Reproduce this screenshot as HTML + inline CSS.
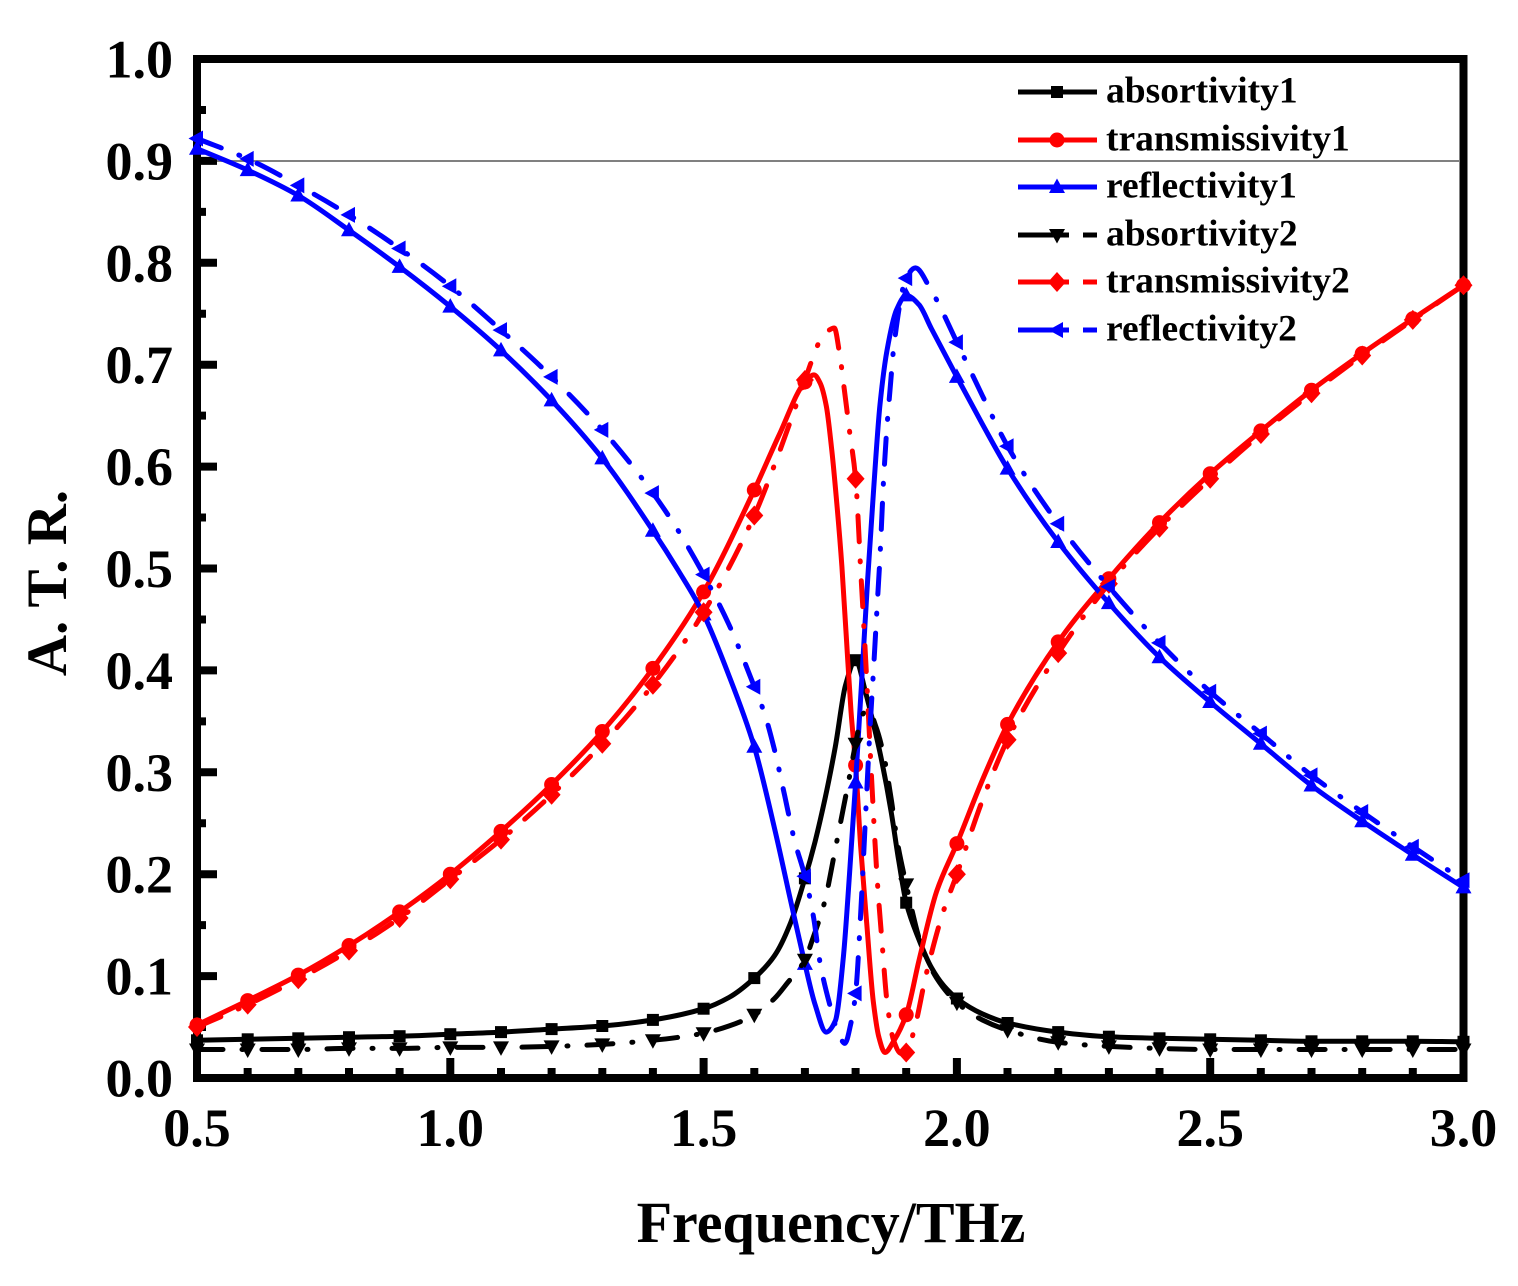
<!DOCTYPE html>
<html><head><meta charset="utf-8">
<style>
html,body{margin:0;padding:0;background:#fff;}
svg{display:block;}
text{font-family:"Liberation Serif","Times New Roman",serif;font-weight:bold;fill:#000;}
</style></head>
<body>
<svg id="s" width="1518" height="1286" viewBox="0 0 1518 1286" xmlns="http://www.w3.org/2000/svg">
<rect width="1518" height="1286" fill="#fff"/>
<line x1="201" y1="161" x2="1459" y2="161" stroke="#808080" stroke-width="2"/>
<rect x="197" y="59" width="1266.5" height="1019" fill="none" stroke="#000" stroke-width="8"/>
<path stroke="#000" stroke-width="8" fill="none" d="M201 976.1h16M201 874.2h16M201 772.3h16M201 670.4h16M201 568.5h16M201 466.6h16M201 364.7h16M201 262.8h16M201 160.9h16
M201 1027.05h5M201 925.15h5M201 823.25h5M201 721.35h5M201 619.45h5M201 517.55h5M201 415.65h5M201 313.75h5M201 211.85h5M201 109.95h5
M450.3 1074v-16M703.6 1074v-16M956.9 1074v-16M1210.2 1074v-16
M247.66 1074v-6M298.3 1074v-6M349 1074v-6M399.6 1074v-6M501 1074v-6M551.6 1074v-6M602.3 1074v-6M652.9 1074v-6M754.3 1074v-6M804.9 1074v-6M855.6 1074v-6M906.2 1074v-6M1007.5 1074v-6M1058.2 1074v-6M1108.9 1074v-6M1159.5 1074v-6M1260.8 1074v-6M1311.5 1074v-6M1362.2 1074v-6M1412.8 1074v-6"/>
<g font-size="54" text-anchor="end">
<text x="173" y="1096.5">0.0</text>
<text x="173" y="994.6">0.1</text>
<text x="173" y="892.7">0.2</text>
<text x="173" y="790.8">0.3</text>
<text x="173" y="688.9">0.4</text>
<text x="173" y="587">0.5</text>
<text x="173" y="485.1">0.6</text>
<text x="173" y="383.2">0.7</text>
<text x="173" y="281.3">0.8</text>
<text x="173" y="179.4">0.9</text>
<text x="173" y="77.5">1.0</text>
</g>
<g font-size="54" text-anchor="middle">
<text x="197" y="1146">0.5</text>
<text x="450.3" y="1146">1.0</text>
<text x="703.6" y="1146">1.5</text>
<text x="956.9" y="1146">2.0</text>
<text x="1210.2" y="1146">2.5</text>
<text x="1463.5" y="1146">3.0</text>
</g>
<text x="831" y="1242" font-size="58" text-anchor="middle">Frequency/THz</text>
<text transform="translate(66,583) rotate(-90)" font-size="57" text-anchor="middle">A. T. R.</text>
<g id="data"></g>
<!-- legend -->
<g stroke-width="5" fill="none">
<line x1="1018" y1="92" x2="1097" y2="92" stroke="#000"/>
<line x1="1018" y1="140" x2="1097" y2="140" stroke="#f00"/>
<line x1="1018" y1="187" x2="1097" y2="187" stroke="#00f"/>
<line x1="1018" y1="235" x2="1069" y2="235" stroke="#000"/>
<line x1="1083" y1="235" x2="1097" y2="235" stroke="#000"/>
<line x1="1018" y1="282" x2="1069" y2="282" stroke="#f00"/>
<line x1="1083" y1="282" x2="1097" y2="282" stroke="#f00"/>
<line x1="1018" y1="330" x2="1069" y2="330" stroke="#00f"/>
<line x1="1083" y1="330" x2="1097" y2="330" stroke="#00f"/>
</g>
<path d="M1051,86h12v12h-12z" fill="#000"/>
<circle cx="1057" cy="140" r="7.5" fill="#f00"/>
<path d="M1057,178.5L1065,193L1049,193z" fill="#00f"/>
<path d="M1057,243.5L1065,229L1049,229z" fill="#000"/>
<path d="M1057,272L1066,282L1057,292L1048,282z" fill="#f00"/>
<path d="M1048.5,330L1063,322L1063,338z" fill="#00f"/>
<g font-size="37.5">
<text x="1106" y="102.5">absortivity1</text>
<text x="1106" y="150.5">transmissivity1</text>
<text x="1106" y="197.5">reflectivity1</text>
<text x="1106" y="245.5">absortivity2</text>
<text x="1106" y="292.5">transmissivity2</text>
<text x="1106" y="340.5">reflectivity2</text>
</g>
</svg>
<script>
(function(){
const X=f=>197+(f-0.5)*506.6, Y=v=>1078-v*1019;
function path(pts){
  const p=pts.map(a=>[X(a[0]),Y(a[1])]);
  const n=p.length, d=[], m=[];
  for(let i=0;i<n-1;i++) d.push((p[i+1][1]-p[i][1])/(p[i+1][0]-p[i][0]));
  m[0]=d[0]; m[n-1]=d[n-2];
  for(let i=1;i<n-1;i++){
    if(d[i-1]*d[i]<=0) m[i]=0;
    else{const h0=p[i][0]-p[i-1][0], h1=p[i+1][0]-p[i][0];const w1=2*h1+h0, w2=h1+2*h0;m[i]=(w1+w2)/(w1/d[i-1]+w2/d[i]);}
  }
  let s='M'+p[0][0].toFixed(1)+','+p[0][1].toFixed(1);
  for(let i=0;i<n-1;i++){
    const h=(p[i+1][0]-p[i][0])/3;
    s+='C'+(p[i][0]+h).toFixed(1)+','+(p[i][1]+m[i]*h).toFixed(1)+' '+(p[i+1][0]-h).toFixed(1)+','+(p[i+1][1]-m[i+1]*h).toFixed(1)+' '+p[i+1][0].toFixed(1)+','+p[i+1][1].toFixed(1);
  }
  return s;
}
const A1=[[0.5,0.037],[0.6,0.038],[0.7,0.039],[0.8,0.040],[0.9,0.041],[1.0,0.043],[1.1,0.045],[1.2,0.048],[1.3,0.051],[1.4,0.057],[1.5,0.068],[1.55,0.079],[1.6,0.098],[1.64,0.12],[1.67,0.15],[1.7,0.196],[1.72,0.232],[1.74,0.275],[1.76,0.325],[1.78,0.385],[1.8,0.41],[1.82,0.378],[1.835,0.348],[1.85,0.315],[1.87,0.262],[1.885,0.214],[1.9,0.172],[1.925,0.136],[1.95,0.108],[1.975,0.09],[2.0,0.078],[2.05,0.063],[2.1,0.054],[2.2,0.045],[2.3,0.0405],[2.4,0.039],[2.5,0.038],[2.6,0.037],[2.7,0.036],[2.8,0.036],[2.9,0.036],[3.0,0.0355]];
const A2=[[0.5,0.028],[0.6,0.028],[0.7,0.028],[0.8,0.029],[0.9,0.029],[1.0,0.030],[1.1,0.030],[1.2,0.031],[1.3,0.033],[1.4,0.037],[1.5,0.044],[1.55,0.051],[1.6,0.062],[1.64,0.078],[1.665,0.093],[1.7,0.116],[1.715,0.136],[1.74,0.175],[1.755,0.212],[1.77,0.25],[1.785,0.288],[1.8,0.328],[1.812,0.355],[1.825,0.362],[1.84,0.345],[1.855,0.318],[1.87,0.275],[1.882,0.233],[1.9,0.19],[1.93,0.13],[1.96,0.098],[2.0,0.074],[2.05,0.057],[2.1,0.047],[2.2,0.035],[2.3,0.031],[2.4,0.029],[2.5,0.028],[2.6,0.028],[2.7,0.028],[2.8,0.028],[2.9,0.028],[3.0,0.028]];
const T1=[[0.5,0.052],[0.6,0.076],[0.7,0.101],[0.8,0.130],[0.9,0.163],[1.0,0.200],[1.1,0.242],[1.2,0.288],[1.3,0.340],[1.4,0.402],[1.5,0.477],[1.6,0.577],[1.65,0.632],[1.7,0.683],[1.718,0.69],[1.73,0.682],[1.742,0.66],[1.753,0.616],[1.763,0.564],[1.773,0.502],[1.782,0.43],[1.791,0.36],[1.8,0.307],[1.81,0.228],[1.822,0.152],[1.835,0.075],[1.846,0.04],[1.858,0.025],[1.875,0.036],[1.9,0.062],[1.925,0.115],[1.96,0.183],[2.0,0.230],[2.05,0.292],[2.1,0.347],[2.2,0.428],[2.3,0.490],[2.4,0.545],[2.5,0.593],[2.6,0.635],[2.7,0.675],[2.8,0.711],[2.9,0.745],[3.0,0.778]];
const T2=[[0.5,0.050],[0.6,0.072],[0.7,0.097],[0.8,0.125],[0.9,0.157],[1.0,0.195],[1.1,0.234],[1.2,0.278],[1.3,0.328],[1.4,0.386],[1.5,0.457],[1.6,0.552],[1.65,0.615],[1.7,0.685],[1.715,0.706],[1.73,0.724],[1.745,0.733],[1.758,0.736],[1.768,0.712],[1.778,0.675],[1.788,0.635],[1.8,0.588],[1.81,0.5],[1.82,0.41],[1.832,0.29],[1.842,0.2],[1.852,0.135],[1.862,0.075],[1.875,0.037],[1.89,0.024],[1.9,0.025],[1.914,0.044],[1.94,0.103],[1.973,0.163],[2.0,0.200],[2.05,0.272],[2.1,0.332],[2.2,0.417],[2.3,0.485],[2.4,0.540],[2.5,0.588],[2.6,0.632],[2.7,0.672],[2.8,0.709],[2.9,0.744],[3.0,0.778]];
const R1=[[0.5,0.912],[0.6,0.891],[0.7,0.866],[0.8,0.832],[0.9,0.796],[1.0,0.757],[1.1,0.714],[1.2,0.665],[1.3,0.608],[1.4,0.537],[1.45,0.498],[1.5,0.455],[1.55,0.395],[1.6,0.325],[1.64,0.245],[1.67,0.178],[1.7,0.112],[1.72,0.072],[1.742,0.045],[1.76,0.056],[1.776,0.119],[1.788,0.2],[1.8,0.29],[1.812,0.39],[1.824,0.49],[1.836,0.58],[1.848,0.66],[1.862,0.714],[1.881,0.754],[1.9,0.768],[1.925,0.759],[1.95,0.735],[2.0,0.688],[2.05,0.642],[2.1,0.598],[2.2,0.526],[2.3,0.466],[2.4,0.413],[2.5,0.369],[2.6,0.328],[2.7,0.287],[2.8,0.252],[2.9,0.219],[3.0,0.187]];
const R2=[[0.5,0.922],[0.6,0.902],[0.7,0.876],[0.8,0.847],[0.9,0.814],[1.0,0.777],[1.1,0.734],[1.2,0.688],[1.3,0.636],[1.4,0.574],[1.45,0.537],[1.5,0.494],[1.55,0.445],[1.6,0.384],[1.62,0.358],[1.64,0.322],[1.66,0.277],[1.68,0.232],[1.7,0.198],[1.717,0.158],[1.73,0.113],[1.75,0.07],[1.765,0.045],[1.779,0.034],[1.79,0.052],[1.8,0.083],[1.81,0.16],[1.82,0.26],[1.829,0.348],[1.835,0.397],[1.842,0.459],[1.848,0.51],[1.855,0.584],[1.861,0.633],[1.868,0.675],[1.876,0.72],[1.9,0.785],[1.918,0.795],[1.947,0.775],[2.0,0.722],[2.05,0.67],[2.1,0.62],[2.2,0.544],[2.3,0.482],[2.4,0.427],[2.5,0.379],[2.6,0.338],[2.7,0.297],[2.8,0.261],[2.9,0.227],[3.0,0.194]];
const MK={
 sq:'M-6,-6h12v12h-12z',
 ci:'M-7.5,0a7.5,7.5 0 1,0 15,0a7.5,7.5 0 1,0 -15,0z',
 up:'M0,-8.5L8,6L-8,6z',
 dn:'M0,8.5L8,-6L-8,-6z',
 di:'M0,-10L9,0L0,10L-9,0z',
 lt:'M-8.5,0L6,-8L6,8z'
};
const series=[
 [A1,'#000',false,'sq'],[T1,'#f00',false,'ci'],[R1,'#00f',false,'up'],
 [A2,'#000',true,'dn'],[T2,'#f00',true,'di'],[R2,'#00f',true,'lt']
];
let out='';
for(const [pts,col,dash,mk] of series){
  out+='<path d="'+path(pts)+'" fill="none" stroke="'+col+'" stroke-width="5" stroke-linejoin="round"'+(dash?' stroke-dasharray="26,19,1,19" stroke-linecap="round"':'')+'/>';
  for(let k=0;k<=25;k++){
    const f=0.5+0.1*k;
    const q=pts.find(a=>Math.abs(a[0]-f)<1e-6);
    if(!q) continue;
    out+='<path transform="translate('+X(f).toFixed(1)+','+Y(q[1]).toFixed(1)+')" d="'+MK[mk]+'" fill="'+col+'"/>';
  }
}
document.getElementById('data').innerHTML=out;
})();
</script>
</body></html>
